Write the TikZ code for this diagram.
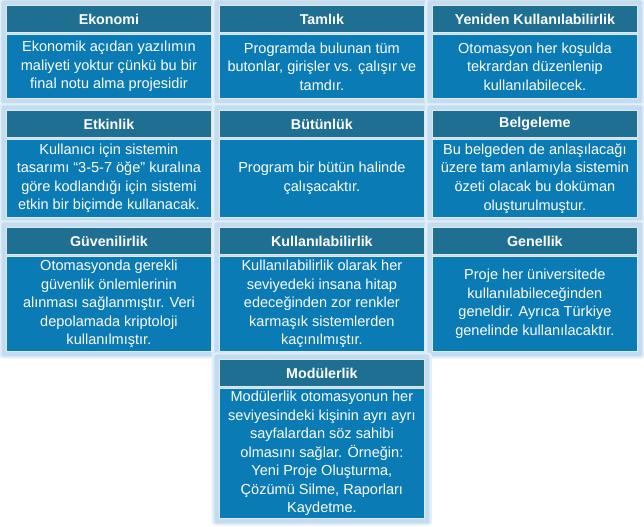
\documentclass[tikz,border=0pt]{standalone}
\usepackage{fontspec}
\setmainfont{Liberation Sans}
\usetikzlibrary{backgrounds}
\definecolor{headblue}{RGB}{30,111,146}
\definecolor{bodyblue}{RGB}{10,123,181}
\definecolor{glowblue}{RGB}{196,220,240}
\definecolor{glowpale}{RGB}{226,238,248}
\tikzset{
  x=0.75pt, y=-0.75pt,
  cellhead/.style={draw=white!85!headblue, line width=0.6pt, fill=headblue, text=white,
    font=\fontsize{10.7}{12}\selectfont\bfseries, anchor=north west, inner sep=0pt,
    minimum width=153.75pt, minimum height=20.25pt},
  cellbody/.style={draw=white!85!bodyblue, line width=0.6pt, fill=bodyblue, text=white,
    font=\fontsize{10.9}{13.9}\selectfont, align=center, anchor=north west, inner sep=0pt,
    minimum width=153.75pt},
}
% one card: name, left x, top y, body height (px), title, body text
\newcommand{\qcard}[6]{%
  \node[cellhead] (#1h) at (#2,#3) {#5};
  \node[cellbody, minimum height=#4*0.75pt] (#1b) at (#2,#3+29) {#6};
  \begin{scope}[on background layer]
    \fill[glowpale, rounded corners=3pt] ([shift={(-5.5pt,5pt)}]#1h.north west) rectangle ([shift={(5.5pt,-5pt)}]#1b.south east);
    \fill[glowblue, rounded corners=2pt] ([shift={(-3.5pt,3.5pt)}]#1h.north west) rectangle ([shift={(3.5pt,-3.5pt)}]#1b.south east);
  \end{scope}
}
\begin{document}
\begin{tikzpicture}
\useasboundingbox (0,0) rectangle (644,526);
\qcard{eko}{6}{5}{64}{Ekonomi}{Ekonomik açıdan yazılımın\\maliyeti yoktur çünkü bu bir\\final notu alma projesidir}
\qcard{tam}{219}{5}{64}{Tamlık}{Programda bulunan tüm\\butonlar, girişler vs. çalışır ve\\tamdır.}
\qcard{yen}{432}{5}{64}{Yeniden Kullanılabilirlik}{Otomasyon her koşulda\\tekrardan düzenlenip\\kullanılabilecek.}
\qcard{etk}{6}{110}{78}{Etkinlik}{Kullanıcı için sistemin\\tasarımı “3-5-7 öğe” kuralına\\göre kodlandığı için sistemi\\etkin bir biçimde kullanacak.}
\qcard{but}{219}{110}{78}{Bütünlük}{Program bir bütün halinde\\çalışacaktır.}
\qcard{bel}{432}{110}{78}{Belgeleme}{Bu belgeden de anlaşılacağı\\üzere tam anlamıyla sistemin\\özeti olacak bu doküman\\oluşturulmuştur.}
\qcard{guv}{6}{227}{95}{Güvenilirlik}{Otomasyonda gerekli\\güvenlik önlemlerinin\\alınması sağlanmıştır. Veri\\depolamada kriptoloji\\kullanılmıştır.}
\qcard{kul}{219}{227}{95}{Kullanılabilirlik}{Kullanılabilirlik olarak her\\seviyedeki insana hitap\\edeceğinden zor renkler\\karmaşık sistemlerden\\kaçınılmıştır.}
\qcard{gen}{432}{227}{95}{Genellik}{Proje her üniversitede\\kullanılabileceğinden\\geneldir. Ayrıca Türkiye\\genelinde kullanılacaktır.}
\qcard{mod}{219}{359}{130}{Modülerlik}{Modülerlik otomasyonun her\\seviyesindeki kişinin ayrı ayrı\\sayfalardan söz sahibi\\olmasını sağlar. Örneğin:\\Yeni Proje Oluşturma,\\Çözümü Silme, Raporları\\Kaydetme.}
\end{tikzpicture}
\end{document}
